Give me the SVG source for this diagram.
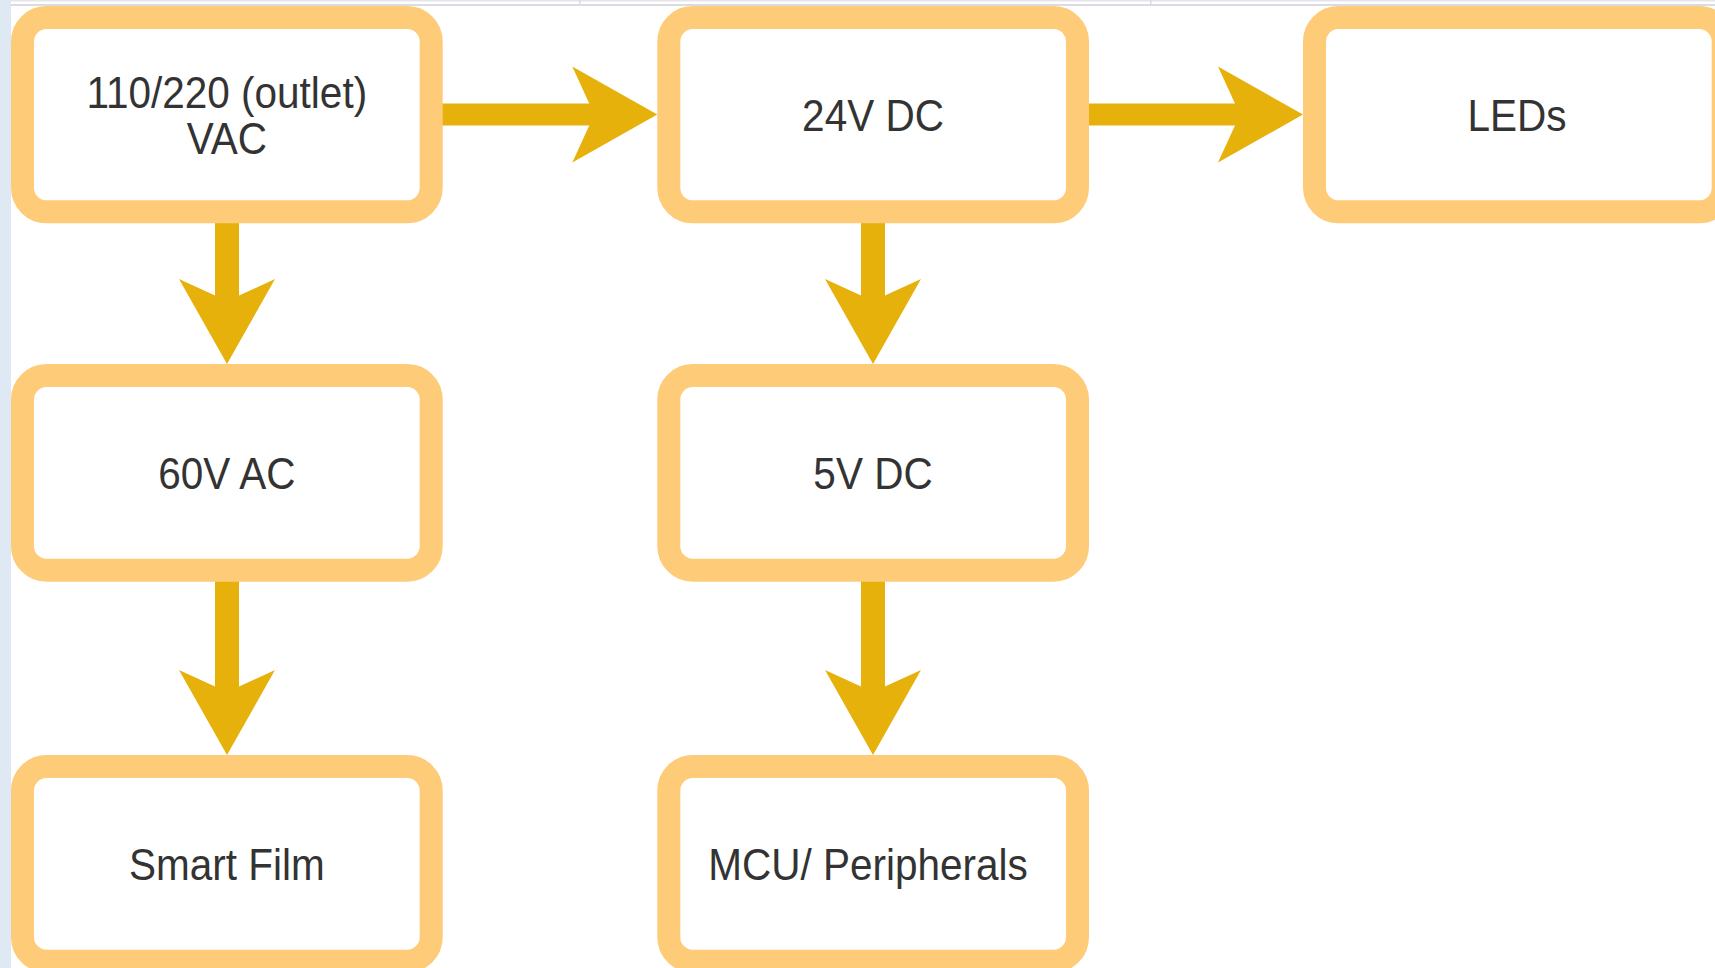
<svg xmlns="http://www.w3.org/2000/svg" xmlns:xlink="http://www.w3.org/1999/xlink" width="1715" height="968" viewBox="0 0 1715 968">
  <style>
    .box { fill: #FFFFFF; stroke: #FECB79; stroke-width: 23; }
    .shaft { stroke: #E6B10A; fill: none; }
    .head { fill: #E6B10A; }
    .lbl { font-family: "Liberation Sans", Arial, sans-serif; font-size: 40.5px; fill: #333333; text-anchor: middle; }
  </style>
  <defs>
    <polygon id="ah" class="head" points="0,0 -85,-48 -63,0 -85,48"/>
  </defs>
  <rect x="0" y="0" width="1715" height="968" fill="#FFFFFF"/>
  <rect x="0" y="0" width="11" height="968" fill="#DFE9F4"/>
  <rect x="11" y="0" width="1704" height="1.5" fill="#E4E5EA"/>
  <rect x="11" y="4" width="1704" height="2" fill="#DADCE2"/>
  <rect x="579" y="0" width="1.5" height="6" fill="#DADCE2"/>
  <rect x="1150" y="0" width="1.5" height="6" fill="#DADCE2"/>

  <g id="connectors">
    <line class="shaft" x1="442" y1="114.6" x2="596" y2="114.6" stroke-width="22"/>
    <use xlink:href="#ah" transform="translate(657.3,114.6)"/>
    <line class="shaft" x1="1088" y1="114.6" x2="1242" y2="114.6" stroke-width="22"/>
    <use xlink:href="#ah" transform="translate(1303,114.6)"/>
    <line class="shaft" x1="227" y1="222" x2="227" y2="306" stroke-width="24"/>
    <use xlink:href="#ah" transform="translate(227,364) rotate(90)"/>
    <line class="shaft" x1="873" y1="222" x2="873" y2="306" stroke-width="24"/>
    <use xlink:href="#ah" transform="translate(873,364) rotate(90)"/>
    <line class="shaft" x1="227" y1="580" x2="227" y2="697" stroke-width="24"/>
    <use xlink:href="#ah" transform="translate(227,755) rotate(90)"/>
    <line class="shaft" x1="873" y1="580" x2="873" y2="697" stroke-width="24"/>
    <use xlink:href="#ah" transform="translate(873,755) rotate(90)"/>
  </g>

  <g id="node-vac">
    <rect class="box" x="22.5" y="17.5" width="408.7" height="194.3" rx="24" ry="24"/>
    <text class="lbl" transform="translate(226.8,107.5) scale(1,1.08)">110/220 (outlet)</text>
    <text class="lbl" transform="translate(226.8,154) scale(1,1.08)">VAC</text>
  </g>
  <g id="node-24vdc">
    <rect class="box" x="668.8" y="17.5" width="408.7" height="194.3" rx="24" ry="24"/>
    <text class="lbl" transform="translate(873,131) scale(1,1.08)">24V DC</text>
  </g>
  <g id="node-leds">
    <rect class="box" x="1314.5" y="17.5" width="408.7" height="194.3" rx="24" ry="24"/>
    <text class="lbl" transform="translate(1517,131) scale(1,1.08)">LEDs</text>
  </g>
  <g id="node-60vac">
    <rect class="box" x="22.5" y="375.5" width="408.7" height="194.7" rx="24" ry="24"/>
    <text class="lbl" transform="translate(226.8,489) scale(1,1.08)">60V AC</text>
  </g>
  <g id="node-5vdc">
    <rect class="box" x="668.8" y="375.5" width="408.7" height="194.7" rx="24" ry="24"/>
    <text class="lbl" transform="translate(873,489) scale(1,1.08)">5V DC</text>
  </g>
  <g id="node-smartfilm">
    <rect class="box" x="22.5" y="766.5" width="408.7" height="194.7" rx="24" ry="24"/>
    <text class="lbl" transform="translate(226.8,880) scale(1,1.08)">Smart Film</text>
  </g>
  <g id="node-mcu">
    <rect class="box" x="668.8" y="766.5" width="408.7" height="194.7" rx="24" ry="24"/>
    <text class="lbl" transform="translate(868,880) scale(1,1.08)">MCU/ Peripherals</text>
  </g>
</svg>
